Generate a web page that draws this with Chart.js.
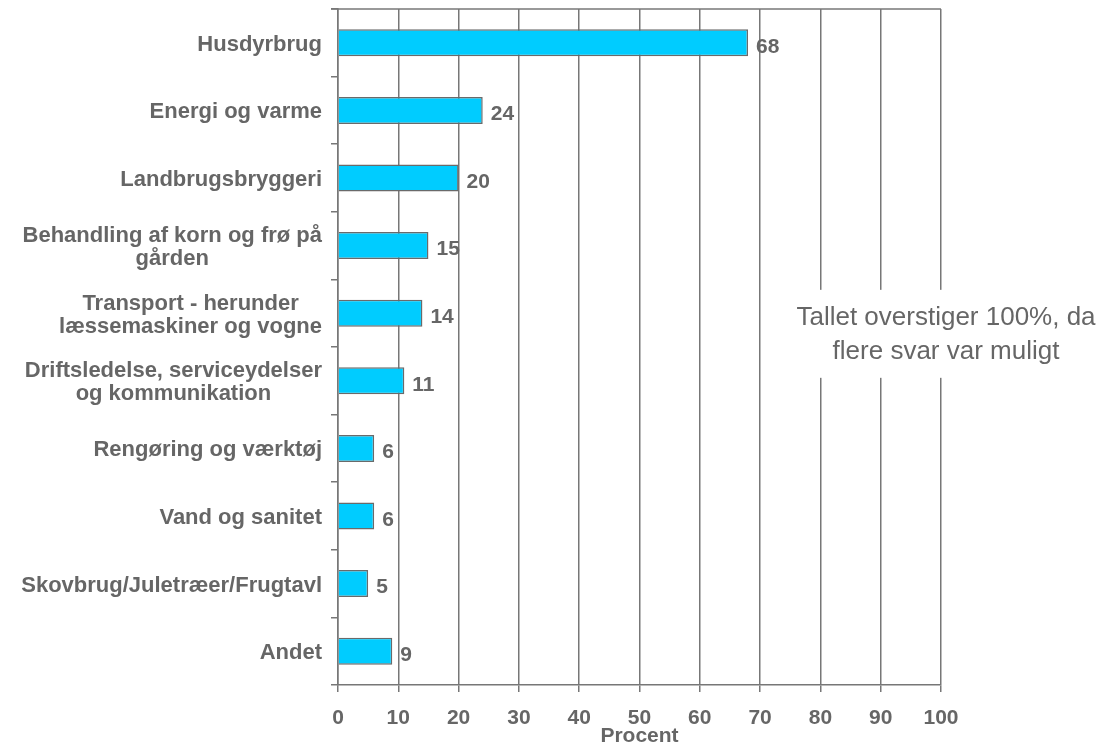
<!DOCTYPE html>
<html>
<head>
<meta charset="utf-8">
<script src="https://cdn.jsdelivr.net/npm/chart.js@4.4.1/dist/chart.umd.min.js"></script>
<style>
  html, body { margin: 0; padding: 0; background: #fff; }
  #wrap { width: 1107px; height: 746px; }
</style>
</head>
<body>
<div id="wrap"><canvas id="chart"></canvas></div>
<script>
// data
const categories = [
    ['Husdyrbrug'],
    ['Energi og varme'],
    ['Landbrugsbryggeri'],
    ['Behandling af korn og frø på', 'gården'],
    ['Transport - herunder', 'læssemaskiner og vogne'],
    ['Driftsledelse, serviceydelser', 'og kommunikation'],
    ['Rengøring og værktøj'],
    ['Vand og sanitet'],
    ['Skovbrug/Juletræer/Frugtavl'],
    ['Andet']
];
const values = [68, 24, 20, 15, 14, 11, 6, 6, 5, 9];
const axisTitle = 'Procent';
const note = ['Tallet overstiger 100%, da', 'flere svar var muligt'];

const FONT = 'Arial, "Liberation Sans", sans-serif';
const GREY = '#666666';
const LINE = '#777777';

Chart.defaults.font.family = FONT;

// category labels: lines centred on each other, block right aligned
const catLabels = {
    id: 'catLabels',
    afterDraw(chart) {
        const ctx = chart.ctx;
        const y = chart.scales.y;
        const right = chart.chartArea.left - 16;
        ctx.save();
        ctx.font = 'bold 22px ' + FONT;
        ctx.fillStyle = GREY;
        ctx.textAlign = 'center';
        ctx.textBaseline = 'middle';
        categories.forEach((lines, i) => {
            const w = Math.max(...lines.map(l => ctx.measureText(l).width));
            const cx = right - w / 2;
            const cy = y.getPixelForValue(i) + 2;
            const lh = 23;
            lines.forEach((l, j) => {
                ctx.fillText(l, cx, cy + (j - (lines.length - 1) / 2) * lh);
            });
        });
        ctx.restore();
    }
};

// value labels right of each bar, plus the top border of the frame
const valueLabels = {
    id: 'valueLabels',
    afterDatasetsDraw(chart) {
        const ctx = chart.ctx;
        const meta = chart.getDatasetMeta(0);
        const a = chart.chartArea;
        ctx.save();
        ctx.strokeStyle = LINE;
        ctx.lineWidth = 1.5;
        ctx.beginPath();
        ctx.moveTo(a.left - 7, a.top);
        ctx.lineTo(a.right, a.top);
        ctx.stroke();
        ctx.font = 'bold 21px ' + FONT;
        ctx.fillStyle = GREY;
        ctx.textAlign = 'left';
        ctx.textBaseline = 'middle';
        meta.data.forEach((bar, i) => {
            ctx.fillText(String(values[i]), bar.x + 8, bar.y + 4);
        });
        ctx.restore();
    }
};

// white note box over the right gridlines
const noteBox = {
    id: 'noteBox',
    afterDraw(chart) {
        const ctx = chart.ctx;
        const a = chart.chartArea;
        const cx = a.right + 5;
        const cy = a.top + (a.bottom - a.top) * 0.482;
        const lh = 34;
        ctx.save();
        ctx.font = '26px ' + FONT;
        const w = Math.max(...note.map(l => ctx.measureText(l).width));
        ctx.fillStyle = '#ffffff';
        ctx.fillRect(cx - w / 2 - 9, cy - 45, w + 18, 88);
        ctx.fillStyle = GREY;
        ctx.textAlign = 'center';
        ctx.textBaseline = 'middle';
        note.forEach((l, j) => {
            ctx.fillText(l, cx, cy + (j - (note.length - 1) / 2) * lh);
        });
        ctx.restore();
    }
};

new Chart(document.getElementById('chart'), {
    type: 'bar',
    data: {
        labels: categories.map(c => c.join(' ')),
        datasets: [{
            data: values,
            backgroundColor: '#00CCFF',
            borderColor: '#6a6a6a',
            borderWidth: 1.5,
            barPercentage: 0.4,
            categoryPercentage: 1.0
        }]
    },
    options: {
        indexAxis: 'y',
        responsive: true,
        maintainAspectRatio: false,
        animation: false,
        layout: { padding: { top: 9, right: 166, left: 0, bottom: 0 } },
        plugins: {
            legend: { display: false },
            tooltip: { enabled: false }
        },
        scales: {
            x: {
                type: 'linear',
                position: 'bottom',
                min: 0,
                max: 100,
                ticks: {
                    stepSize: 10,
                    color: GREY,
                    font: { size: 21, weight: 'bold' },
                    padding: 14
                },
                grid: { color: LINE, lineWidth: 1.5, tickLength: 7, drawTicks: true },
                border: { display: true, color: LINE, width: 1.5 },
                title: {
                    display: true,
                    text: axisTitle,
                    color: GREY,
                    font: { size: 21, weight: 'bold' },
                    padding: { top: 0, bottom: -3 }
                },
                afterFit(scale) { scale.height = 61; }
            },
            y: {
                type: 'category',
                ticks: { display: false },
                grid: { drawOnChartArea: false, color: LINE, lineWidth: 1.5, tickLength: 7, offset: true },
                border: { display: true, color: LINE, width: 1.5 },
                afterFit(scale) { scale.width = 338; }
            }
        }
    },
    plugins: [valueLabels, catLabels, noteBox]
});
</script>
</body>
</html>
